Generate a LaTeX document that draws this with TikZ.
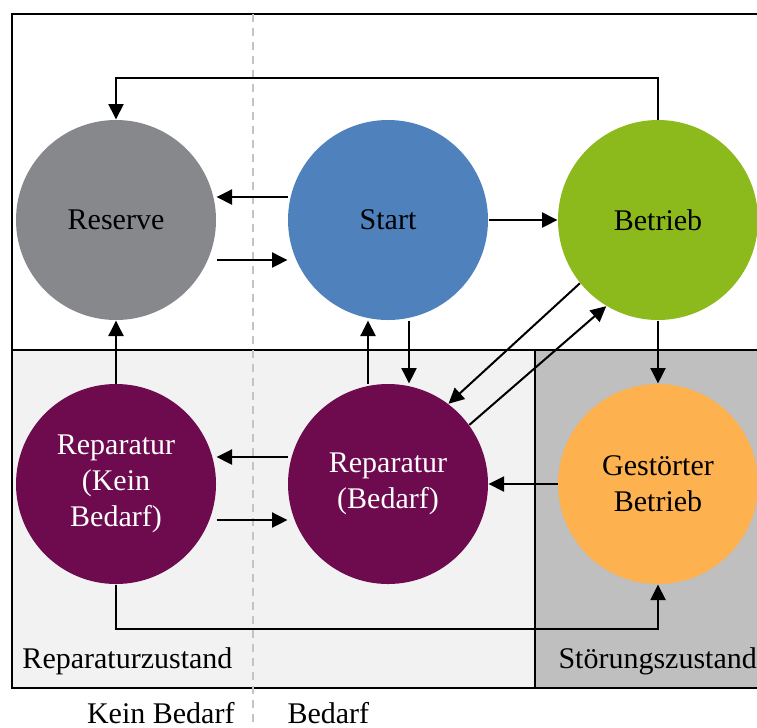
\documentclass[tikz,border=0pt]{standalone}
\usepackage{fontspec}
\setmainfont{Liberation Serif}
\usetikzlibrary{arrows.meta}
\definecolor{reservegray}{HTML}{87888C}
\definecolor{startblue}{HTML}{4F81BD}
\definecolor{betriebgreen}{HTML}{8CB91B}
\definecolor{stoerorange}{HTML}{FDB14F}
\definecolor{repmagenta}{HTML}{6E0A4E}
\definecolor{zoneleft}{HTML}{F2F2F2}
\definecolor{zoneright}{HTML}{BFBFBF}
\definecolor{splitgray}{HTML}{C4C4C4}
\begin{document}
\begin{tikzpicture}
[
    x=0.4pt, y=-0.4pt,
    every node/.style={font=\fontsize{12}{14.4}\selectfont},
    state/.style={circle, minimum size=80pt, inner sep=0pt, align=center},
    zonelabel/.style={inner sep=0pt},
    link/.style={-{Triangle[length=6.2pt,width=6pt]}, line width=0.8pt},
    frame/.style={line width=0.8pt},
]
\useasboundingbox (0,0) rectangle (757,727);
\fill[zoneleft] (12,350) rectangle (535,688);
\fill[zoneright] (535,350) rectangle (762,688);
\draw[frame] (12,14) rectangle (762,688);
\draw[frame] (12,350) -- (762,350);
\draw[frame] (535,350) -- (535,688);
\draw[splitgray, line width=0.6pt, dash pattern=on 3.2pt off 2.4pt] (253,14) -- (253,727);

\node[state, fill=reservegray] (reserve) at (116,220) {Reserve};
\node[state, fill=startblue] (start) at (388,220) {Start};
\node[state, fill=betriebgreen] (betrieb) at (658,220) {Betrieb};
\node[state, fill=repmagenta, text=white] (repk) at (116,484) {Reparatur\\(Kein\\Bedarf)};
\node[state, fill=repmagenta, text=white] (repb) at (388,484) {Reparatur\\(Bedarf)};
\node[state, fill=stoerorange] (gestoert) at (658,484) {Gestörter\\Betrieb};

\node[zonelabel, anchor=west] (repzone) at (22,661) {Reparaturzustand};
\node[zonelabel, anchor=west] (stoerzone) at (558,661) {Störungszustand};
\node[zonelabel, anchor=east] (keinbedarf) at (235,713) {Kein Bedarf};
\node[zonelabel, anchor=west] (bedarf) at (287,713) {Bedarf};

\draw[link] (betrieb.north) -- ++(0,-42) -| (reserve.north);
\draw[link] ([yshift=9.2pt]start.west) -- ([yshift=9.2pt]reserve.east);
\draw[link] ([yshift=-16pt]reserve.east) -- ([yshift=-16pt]start.west);
\draw[link] (start.east) -- (betrieb.west);
\draw[link] (betrieb.south) -- (gestoert.north);
\draw[link] (gestoert.west) -- (repb.east);
\draw[link] ([xshift=-8pt]repb.north) -- ([xshift=-8pt]start.south);
\draw[link] ([xshift=8.4pt]start.south) -- ([xshift=8.4pt]repb.north);
\draw[link] (betrieb.219) -- (repb.53);
\draw[link] (repb.36) -- (betrieb.239);
\draw[link] (repk.north) -- (reserve.south);
\draw[link] ([yshift=10.8pt]repb.west) -- ([yshift=10.8pt]repk.east);
\draw[link] ([yshift=-14.4pt]repk.east) -- ([yshift=-14.4pt]repb.west);
\draw[link] (repk.south) -- ++(0,44) -| (gestoert.south);
\end{tikzpicture}
\end{document}
